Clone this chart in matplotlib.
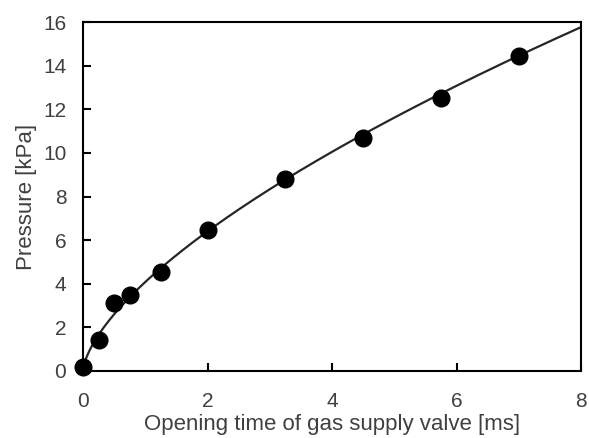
import numpy as np
import matplotlib
matplotlib.use('Agg')
import matplotlib.pyplot as plt

plt.rcParams['font.family'] = ['Liberation Sans', 'DejaVu Sans']

# Measured pressure vs. valve opening time
opening_time = [0.0, 0.25, 0.5, 0.75, 1.25, 2.0, 3.25, 4.5, 5.75, 7.0]
pressure = [0.2, 1.4, 3.1, 3.5, 4.55, 6.45, 8.8, 10.7, 12.5, 14.45]

# Power-law trend y = a * x^b
fit_a = 4.08
fit_b = 0.65

text_color = '#404040'

fig = plt.figure(figsize=(5.89, 4.38), dpi=100)
ax = fig.add_axes([83 / 589, 1 - 371 / 438, 498 / 589, 349 / 438])

xs = np.linspace(0, 8, 400)
ax.plot(xs, fit_a * xs ** fit_b, color='#262626', lw=1.6, zorder=2)
ax.plot(opening_time, pressure, 'o', color='black', ms=12, zorder=3, clip_on=False)

ax.set_xlim(0, 8)
ax.set_ylim(0, 16)
ax.set_xticks(range(0, 9, 2))
ax.set_yticks(range(0, 17, 2))

for side in ['left', 'bottom', 'top', 'right']:
    ax.spines[side].set_linewidth(1.5)
    ax.spines[side].set_color('black')

ax.tick_params(direction='in', length=6, width=1.5, labelsize=15,
               labelcolor=text_color)
ax.tick_params(axis='x', pad=15)
ax.tick_params(axis='y', pad=12)
ax.set_xlabel('Opening time of gas supply valve [ms]', fontsize=16,
              color=text_color, labelpad=2)
ax.set_ylabel('Pressure [kPa]', fontsize=16, color=text_color, labelpad=4)

fig.savefig('out.png', dpi=100)
